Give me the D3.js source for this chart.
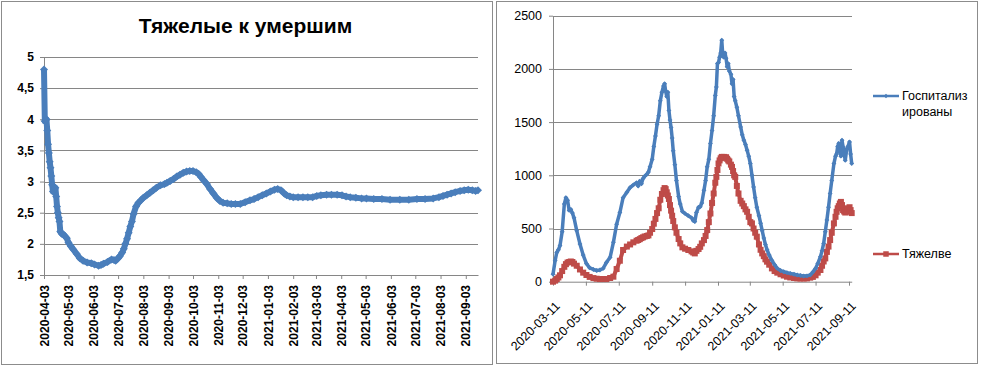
<!DOCTYPE html>
<html>
<head>
<meta charset="utf-8">
<script src="https://cdn.jsdelivr.net/npm/d3@7"></script>
<style>
  body { margin: 0; background: #fff; }
  text { font-family: "Liberation Sans", Arial, sans-serif; }
</style>
</head>
<body>
<script>
// ---- left chart: ratio of severe cases to deaths ----
const ratioTitle = "Тяжелые к умершим";
const ratioStart = "2020-04-03";
const ratioEnd = "2021-09-18";
const ratioDays = [0, 1, 2, 3, 4, 5, 6, 7, 8, 9, 10, 11, 12, 13, 14, 15, 16, 17, 18, 19, 20, 21, 22, 24, 26, 28,
  30, 33, 36, 40, 44, 48, 53, 58, 62, 67, 70, 73, 78, 83, 86, 88, 91, 93, 96, 98, 100, 102, 104, 106, 108, 110,
  113, 116, 119, 122, 126, 130, 134, 138, 143, 148, 151, 155, 159, 163, 167, 171, 175, 179, 183, 187, 190, 193,
  196, 200, 204, 208, 212, 216, 220, 225, 230, 235, 241, 247, 253, 258, 263, 268, 273, 278, 283, 287, 291, 295,
  298, 302, 306, 312, 318, 324, 330, 335, 340, 347, 353, 360, 366, 371, 376, 383, 390, 396, 405, 415, 425, 437,
  448, 458, 468, 478, 485, 490, 495, 500, 505, 511, 516, 521, 526, 530, 533];
const ratioValues = [4.8, 3.97, 3.98, 4.0, 3.82, 3.6, 3.46, 3.32, 3.22, 3.09, 2.95, 2.84, 2.92, 2.88, 2.9, 2.76, 2.6,
  2.5, 2.42, 2.36, 2.2, 2.18, 2.16, 2.15, 2.12, 2.09,
  2.02, 1.96, 1.91, 1.84, 1.77, 1.73, 1.70, 1.69, 1.67, 1.65, 1.66, 1.68, 1.71, 1.75, 1.74, 1.73, 1.77, 1.80, 1.86,
  1.92, 2.0, 2.08, 2.18, 2.28, 2.36, 2.48,
  2.60, 2.66, 2.70, 2.74, 2.78, 2.82, 2.86, 2.90, 2.94, 2.96, 2.98, 3.01, 3.04, 3.08, 3.11, 3.14, 3.16, 3.17, 3.17,
  3.15, 3.12, 3.07,
  3.02, 2.96, 2.88, 2.81, 2.74, 2.69, 2.66, 2.65, 2.64, 2.64, 2.64, 2.67, 2.70, 2.72, 2.75, 2.78, 2.81, 2.84, 2.87,
  2.88, 2.86, 2.81,
  2.78, 2.76, 2.75, 2.75, 2.75, 2.75, 2.75, 2.77, 2.78, 2.79, 2.79, 2.79, 2.78, 2.76, 2.75, 2.74, 2.73, 2.73, 2.72,
  2.72, 2.71, 2.71,
  2.71, 2.72, 2.72, 2.73, 2.75, 2.77, 2.79, 2.81, 2.83, 2.85, 2.86, 2.87, 2.86, 2.85, 2.86];
const ratioYTicks = [1.5, 2, 2.5, 3, 3.5, 4, 4.5, 5];
const ratioXTicks = ["2020-04-03", "2020-05-03", "2020-06-03", "2020-07-03", "2020-08-03", "2020-09-03",
  "2020-10-03", "2020-11-03", "2020-12-03", "2021-01-03", "2021-02-03", "2021-03-03", "2021-04-03",
  "2021-05-03", "2021-06-03", "2021-07-03", "2021-08-03", "2021-09-03"];

// ---- right chart: hospitalised and severe ----
const wardStart = "2020-03-11";
const wardEnd = "2021-09-16";
const wardDays = [0, 4, 7, 10, 13, 17, 21, 24, 27, 30, 33, 36, 39, 44, 50, 56, 62, 68, 75, 81, 87, 93, 99, 106,
  112, 118, 124, 130, 137, 143, 149, 155, 158, 161, 164, 167, 170, 174, 177, 180, 184, 187, 190, 193, 196, 199,
  202, 205, 207, 209, 211, 213, 215, 217, 219, 221, 223, 226, 229, 233, 236, 240, 245, 251, 257, 260, 263, 266,
  270, 273, 276, 280, 283, 286, 289, 292, 295, 298, 301, 303, 305, 307, 309, 311, 313, 315, 317, 319, 321, 323,
  325, 327, 330, 332, 334, 336, 338, 341, 344, 348, 351, 354, 357, 360, 363, 366, 369, 372, 375, 378, 382, 385,
  388, 391, 394, 397, 401, 406, 411, 416, 422, 428, 434, 440, 447, 453, 459, 465, 471, 477, 482, 487, 491, 496,
  499, 502, 505, 508, 511, 514, 517, 521, 524, 526, 528, 530, 532, 534, 536, 538, 540, 542, 545, 547, 550, 552, 554];
const hospitalized = [70, 200, 275, 300, 340, 470, 730, 790, 765, 670, 680, 645, 600, 480, 355, 250, 170, 130, 115,
  105, 110, 125, 180, 230,
  370, 540, 650, 790, 840, 885, 910, 930, 900, 945, 920, 970, 990, 1010, 1030, 1080, 1150, 1270, 1370, 1480, 1560,
  1700,
  1780, 1840, 1860, 1790, 1740, 1780, 1610, 1520, 1450, 1350, 1230, 1100, 950, 800, 730, 660, 640, 620, 600, 575,
  565, 650,
  700, 705, 740, 860, 950, 1080, 1150, 1300, 1420, 1560, 1750, 1830, 2050, 2060, 2110, 2150, 2270, 2120, 2110,
  2150, 2100, 2020,
  2050, 1980, 1950, 1860, 1900, 1740, 1700, 1640, 1560, 1455, 1380, 1330, 1290, 1236, 1180, 1110, 1000, 890, 790,
  700, 620, 550,
  480, 410, 350, 300, 250, 200, 160, 125, 105, 94, 85, 78, 70, 63, 58, 53, 55, 63, 90, 125, 170, 235,
  290, 360, 470, 580, 700, 830, 950, 1110, 1180, 1200, 1270, 1300, 1240, 1180, 1330, 1267, 1200, 1142, 1250, 1270,
  1314, 1200, 1110];
const severe = [0, 10, 25, 40, 60, 100, 140, 165, 180, 185, 190, 185, 170, 150, 115, 85, 63, 45, 34, 28, 25, 25,
  25, 35,
  47, 119, 197, 298, 330, 350, 370, 385, 392, 400, 410, 417, 425, 430, 435, 460, 495, 545, 590, 645, 690, 770,
  824, 860, 880, 870, 840, 810, 777, 720, 668, 620, 570, 511, 460, 401, 360, 323, 310, 298, 285, 275, 266, 290,
  307, 328, 360, 391, 430, 485, 560, 641, 740, 829, 930, 985, 1050, 1111, 1140, 1160, 1173, 1170, 1173, 1165,
  1170, 1155,
  1140, 1130, 1100, 1079, 1040, 1000, 985, 900, 829, 760, 735, 710, 680, 657, 610, 560, 548, 500, 460, 423, 350,
  300,
  266, 240, 210, 188, 160, 125, 100, 85, 70, 58, 47, 40, 35, 31, 30, 30, 31, 38, 45, 60, 85, 110,
  150, 190, 219, 280, 330, 391, 460, 548, 610, 657, 690, 710, 735, 750, 720, 673, 660, 650, 657, 690, 700, 673, 645];
const wardYTicks = [0, 500, 1000, 1500, 2000, 2500];
const wardXTicks = ["2020-03-11", "2020-05-11", "2020-07-11", "2020-09-11", "2020-11-11", "2021-01-11",
  "2021-03-11", "2021-05-11", "2021-07-11", "2021-09-11"];
const legendLines = [["Госпитализ", "ированы"], ["Тяжелве"]];

const blue = "#4a7ebb", red = "#be4b48", gridColor = "#868686", frameColor = "#8c8c8c";
const parse = d3.timeParse("%Y-%m-%d");
const fmtDate = d3.timeFormat("%Y-%m-%d");
const comma = v => String(v).replace(".", ",");

const svg = d3.select("body").append("svg").attr("width", 983).attr("height", 368);

// chart frames
svg.append("rect").attr("x", 1.5).attr("y", 1.5).attr("width", 491).attr("height", 363)
  .attr("fill", "#fff").attr("stroke", frameColor);
svg.append("rect").attr("x", 496.5).attr("y", 1.5).attr("width", 481).attr("height", 362)
  .attr("fill", "#fff").attr("stroke", frameColor);

function styleAxis(g, size, weight) {
  g.select(".domain").attr("stroke", gridColor);
  g.selectAll(".tick line").attr("stroke", gridColor);
  g.selectAll("text").attr("fill", "#000").attr("font-size", size).attr("font-weight", weight)
    .attr("font-family", "'Liberation Sans', Arial, sans-serif");
}

// ================= left chart =================
const rx = d3.scaleTime().domain([parse(ratioStart), parse(ratioEnd)]).range([44, 478]);
const ry = d3.scaleLinear().domain([1.5, 5]).range([275, 57]);
const gL = svg.append("g");

gL.append("text").attr("x", 245.5).attr("y", 33).attr("text-anchor", "middle")
  .attr("font-size", 21).attr("font-weight", "bold").text(ratioTitle);

gL.append("g").selectAll("line").data(ratioYTicks.slice(1)).join("line")
  .attr("x1", 44).attr("x2", 478)
  .attr("y1", d => Math.round(ry(d)) + 0.5).attr("y2", d => Math.round(ry(d)) + 0.5)
  .attr("stroke", gridColor);

gL.append("g").attr("transform", "translate(44,0)")
  .call(d3.axisLeft(ry).tickValues(ratioYTicks).tickFormat(comma).tickSize(4).tickSizeOuter(0).tickPadding(6))
  .call(g => styleAxis(g, 12, "bold"));

gL.append("g").attr("transform", "translate(0,275)")
  .call(d3.axisBottom(rx).tickValues(ratioXTicks.map(parse)).tickFormat(fmtDate).tickSize(4).tickSizeOuter(0))
  .call(g => styleAxis(g, 12, "bold"))
  .call(g => g.selectAll("text").attr("transform", "rotate(-90)").attr("text-anchor", "end")
    .attr("x", -10).attr("y", 0).attr("dy", "0.35em"));

const ratioPts = ratioDays.map((d, i) => ({date: d3.timeDay.offset(parse(ratioStart), d), v: ratioValues[i]}));
gL.append("path").datum(ratioPts)
  .attr("d", d3.line().x(d => rx(d.date)).y(d => ry(d.v)))
  .attr("fill", "none").attr("stroke", blue).attr("stroke-width", 6).attr("stroke-linejoin", "round");
gL.append("g").selectAll("path").data(ratioPts).join("path")
  .attr("d", d3.symbol(d3.symbolSquare, 32))
  .attr("transform", d => `translate(${rx(d.date)},${ry(d.v)}) rotate(45)`)
  .attr("fill", blue);

// ================= right chart =================
const wx = d3.scaleTime().domain([parse(wardStart), parse(wardEnd)]).range([553, 851.7]);
const wy = d3.scaleLinear().domain([0, 2500]).range([281.7, 15.7]);
const gR = svg.append("g");

gR.append("g").selectAll("line").data(wardYTicks.slice(1)).join("line")
  .attr("x1", 553).attr("x2", 852)
  .attr("y1", d => Math.round(wy(d)) + 0.5).attr("y2", d => Math.round(wy(d)) + 0.5)
  .attr("stroke", gridColor);

gR.append("g").attr("transform", "translate(553,0)")
  .call(d3.axisLeft(wy).tickValues(wardYTicks).tickFormat(d3.format("d")).tickSize(4).tickSizeOuter(0).tickPadding(7))
  .call(g => styleAxis(g, 12.5, "normal"));

gR.append("g").attr("transform", "translate(0,281.7)")
  .call(d3.axisBottom(wx).tickValues(wardXTicks.map(parse)).tickFormat(fmtDate).tickSize(4).tickSizeOuter(0))
  .call(g => styleAxis(g, 12.5, "normal"))
  .call(g => g.selectAll("text").attr("text-anchor", "end").attr("x", 0).attr("y", 0).attr("dy", "0.35em")
    .attr("transform", "translate(4,22) rotate(-45)"));

const wardPts = wardDays.map((d, i) => ({
  date: d3.timeDay.offset(parse(wardStart), d), hosp: hospitalized[i], sev: severe[i]
}));

// severe (red, squares)
gR.append("path").datum(wardPts)
  .attr("d", d3.line().x(d => wx(d.date)).y(d => wy(d.sev)))
  .attr("fill", "none").attr("stroke", red).attr("stroke-width", 4).attr("stroke-linejoin", "round");
gR.append("g").selectAll("path").data(wardPts).join("path")
  .attr("d", d3.symbol(d3.symbolSquare, 36))
  .attr("transform", d => `translate(${wx(d.date)},${wy(d.sev)})`)
  .attr("fill", red);

// hospitalised (blue, small diamonds)
gR.append("path").datum(wardPts)
  .attr("d", d3.line().x(d => wx(d.date)).y(d => wy(d.hosp)))
  .attr("fill", "none").attr("stroke", blue).attr("stroke-width", 3.5).attr("stroke-linejoin", "round");
gR.append("g").selectAll("path").data(wardPts).join("path")
  .attr("d", d3.symbol(d3.symbolSquare, 12))
  .attr("transform", d => `translate(${wx(d.date)},${wy(d.hosp)}) rotate(45)`)
  .attr("fill", blue);

// legend
const legend = gR.append("g");
const legendY = [96, 254];
[blue, red].forEach((c, i) => {
  const lg = legend.append("g").attr("transform", `translate(873,${legendY[i]})`);
  lg.append("line").attr("x1", 0).attr("x2", 26).attr("y1", 0).attr("y2", 0)
    .attr("stroke", c).attr("stroke-width", 2.5);
  lg.append("path").attr("d", d3.symbol(d3.symbolSquare, i === 0 ? 10 : 30))
    .attr("transform", `translate(13,0)${i === 0 ? " rotate(45)" : ""}`).attr("fill", c);
  lg.append("text").attr("x", 29).attr("y", 0).attr("font-size", 12.5)
    .selectAll("tspan").data(legendLines[i]).join("tspan")
    .attr("x", 29).attr("dy", (d, j) => j === 0 ? "0.35em" : "16px").text(d => d);
});
</script>
</body>
</html>
